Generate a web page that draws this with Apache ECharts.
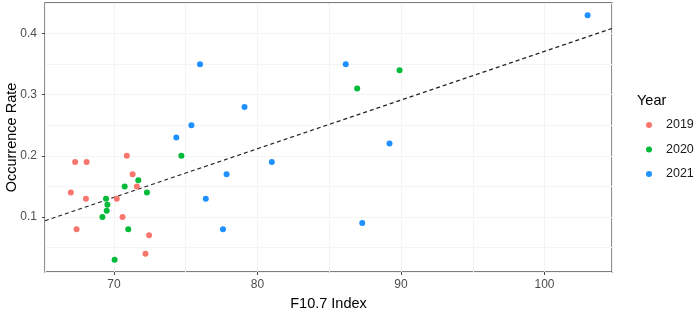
<!DOCTYPE html>
<html>
<head>
<meta charset="utf-8">
<script src="https://cdn.jsdelivr.net/npm/echarts@6/dist/echarts.min.js"></script>
<style>
  html, body { margin: 0; padding: 0; background: #fff; overflow: hidden; }
  #chart { width: 699px; height: 310px; }
</style>
</head>
<body>
<div id="chart"></div>
<script>
// F10.7 index vs occurrence rate, one series per year
const f107_2019 = [67.3, 68.1, 67.0, 68.05, 67.4, 70.9, 71.3, 71.6, 70.2, 70.6, 72.45, 72.2];
const rate_2019 = [0.19, 0.19, 0.14, 0.13, 0.08, 0.20, 0.17, 0.15, 0.13, 0.10, 0.07, 0.04];
const f107_2020 = [69.2, 69.45, 69.55, 69.5, 70.75, 71.7, 72.3, 71.0, 70.05, 74.7, 89.9, 86.95];
const rate_2020 = [0.10, 0.13, 0.12, 0.11, 0.15, 0.16, 0.14, 0.08, 0.03, 0.20, 0.34, 0.31];
const f107_2021 = [76.0, 75.4, 74.35, 79.1, 77.85, 76.4, 77.6, 81.0, 86.15, 89.2, 87.3, 103.0];
const rate_2021 = [0.35, 0.25, 0.23, 0.28, 0.17, 0.13, 0.08, 0.19, 0.35, 0.22, 0.09, 0.43];

const xTicks = [70, 80, 90, 100];
const yTicks = [0.1, 0.2, 0.3, 0.4];

const X_MIN = 65.2, X_MAX = 104.7;
const Y_MIN = 0.01, Y_MAX = 0.45;

const grey = "#4d4d4d";
const gridCol = "#ebebeb";
const minorCol = "#f4f4f4";

const pairs = (xs, ys) => xs.map((x, i) => [x, ys[i]]);

// least squares fit over all points, drawn across the full x range
const allX = [...f107_2019, ...f107_2020, ...f107_2021];
const allY = [...rate_2019, ...rate_2020, ...rate_2021];
const mx = allX.reduce((a, b) => a + b, 0) / allX.length;
const my = allY.reduce((a, b) => a + b, 0) / allY.length;
let sxy = 0, sxx = 0;
allX.forEach((x, i) => { sxy += (x - mx) * (allY[i] - my); sxx += (x - mx) * (x - mx); });
const slope = sxy / sxx;
const icpt = my - slope * mx;
const fitLine = [X_MIN, X_MAX].map(x => [x, icpt + slope * x]);

const chart = echarts.init(document.getElementById("chart"));

const scatter = (name, data, color) => ({
  name, type: "scatter", data, symbolSize: 6,
  itemStyle: { color, opacity: 1 }, z: 3
});

chart.setOption({
  animation: false,
  textStyle: { fontFamily: "Liberation Sans, Arial, sans-serif" },
  title: {
    text: "Year", left: 632, top: 88,
    textStyle: { fontSize: 14.5, fontWeight: "normal", color: "#000" }
  },
  legend: {
    orient: "vertical", left: 646, top: 118, padding: 0,
    data: ["2019", "2020", "2021"],
    icon: "circle", itemWidth: 6, itemHeight: 6, itemGap: 10.5,
    textStyle: { fontSize: 12.5, color: "#1a1a1a", lineHeight: 14, padding: [0, 0, 0, 9] }
  },
  grid: {
    left: 45, right: 87, top: 3, bottom: 38,
    outerBoundsMode: "none",
    show: true, borderColor: "#555", borderWidth: 1.3, backgroundColor: "#fff"
  },
  xAxis: [
    {
      type: "value", min: X_MIN, max: X_MAX, splitNumber: 4,
      name: "F10.7 Index", nameLocation: "middle", nameGap: 24, nameMoveOverlap: false,
      nameTextStyle: { fontSize: 14.5, color: "#000" },
      axisLine: { show: false },
      axisTick: { show: true, length: 3, customValues: xTicks, lineStyle: { color: "#444" } },
      axisLabel: { fontSize: 12, color: grey, margin: 7, customValues: xTicks },
      splitLine: { lineStyle: { color: gridCol, width: 1 } }
    },
    {
      type: "value", min: X_MIN, max: X_MAX, splitNumber: 8,
      axisLine: { show: false }, axisTick: { show: false }, axisLabel: { show: false },
      splitLine: { lineStyle: { color: minorCol, width: 1 } }
    }
  ],
  yAxis: [
    {
      type: "value", min: Y_MIN, max: Y_MAX, splitNumber: 4,
      name: "Occurrence Rate", nameLocation: "middle", nameGap: 26, nameMoveOverlap: false,
      nameTextStyle: { fontSize: 14.5, color: "#000" },
      axisLine: { show: false },
      axisTick: { show: true, length: 3, customValues: yTicks, lineStyle: { color: "#444" } },
      axisLabel: { fontSize: 12, color: grey, margin: 8, customValues: yTicks },
      splitLine: { lineStyle: { color: gridCol, width: 1 } }
    },
    {
      type: "value", min: Y_MIN, max: Y_MAX, splitNumber: 8,
      axisLine: { show: false }, axisTick: { show: false }, axisLabel: { show: false },
      splitLine: { lineStyle: { color: minorCol, width: 1 } }
    }
  ],
  series: [
    scatter("2019", pairs(f107_2019, rate_2019), "#f8766d"),
    scatter("2020", pairs(f107_2020, rate_2020), "#00ba38"),
    scatter("2021", pairs(f107_2021, rate_2021), "#1e90ff"),
    {
      name: "fit", type: "line", data: fitLine, symbol: "none", z: 2,
      lineStyle: { color: "#222", width: 1.2, type: [4, 3] }
    }
  ]
});
</script>
</body>
</html>
